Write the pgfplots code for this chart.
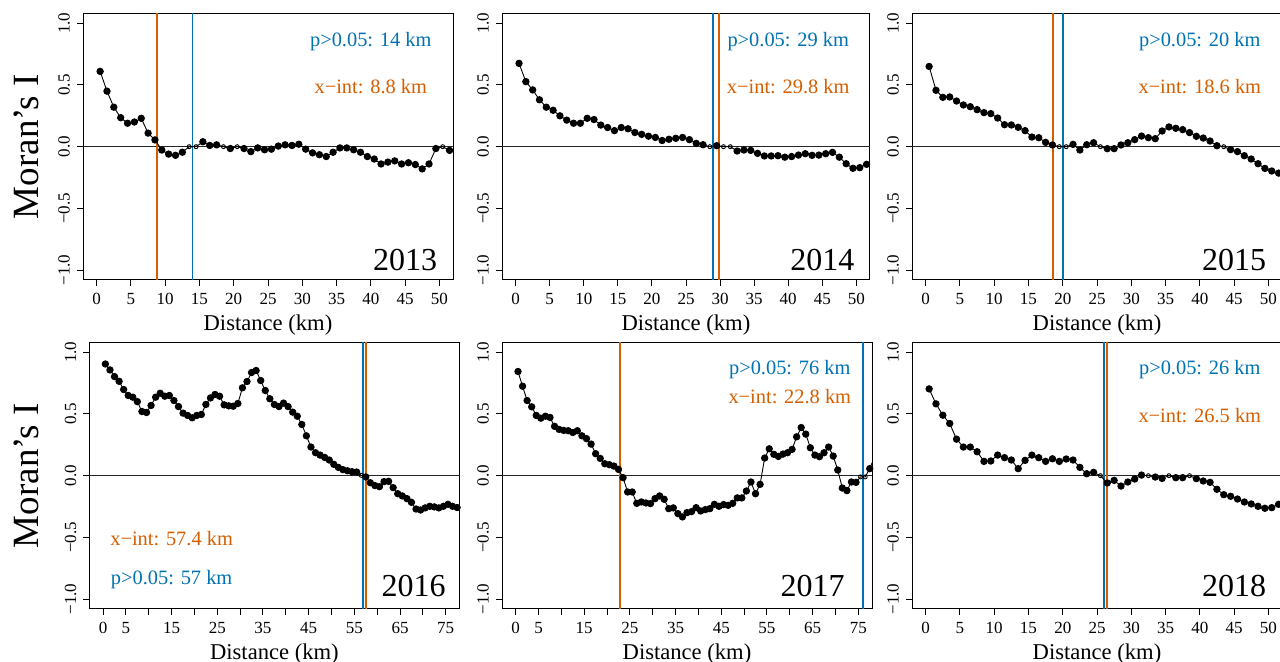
\documentclass[border=0pt]{standalone}
\usepackage{fontspec}
\setmainfont{Liberation Serif}
\usepackage{pgfplots}
\usepackage{pgfplotstable}
\pgfplotsset{compat=1.18}
\definecolor{cblue}{RGB}{0,114,178}
\definecolor{corange}{RGB}{213,94,0}

% d = distance (km), I = Moran's I, s = f (p<0.05) / o (not significant)
\pgfplotstableread{
d I s
0.5 0.61 f
1.5 0.45 f
2.5 0.32 f
3.5 0.235 f
4.5 0.19 f
5.5 0.20 f
6.5 0.23 f
7.5 0.11 f
8.5 0.055 f
9.5 -0.027 f
10.5 -0.06 f
11.5 -0.07 f
12.5 -0.045 f
13.5 0.0 o
14.5 0.0 o
15.5 0.04 f
16.5 0.01 f
17.5 0.015 f
18.5 0.0 o
19.5 -0.015 f
20.5 0.0 o
21.5 -0.015 f
22.5 -0.04 f
23.5 -0.01 f
24.5 -0.025 f
25.5 -0.02 f
26.5 0.005 f
27.5 0.015 f
28.5 0.01 f
29.5 0.02 f
30.5 -0.02 f
31.5 -0.05 f
32.5 -0.065 f
33.5 -0.08 f
34.5 -0.045 f
35.5 -0.01 f
36.5 -0.01 f
37.5 -0.025 f
38.5 -0.045 f
39.5 -0.08 f
40.5 -0.10 f
41.5 -0.14 f
42.5 -0.125 f
43.5 -0.115 f
44.5 -0.14 f
45.5 -0.13 f
46.5 -0.145 f
47.5 -0.18 f
48.5 -0.14 f
49.5 -0.015 f
50.5 0.0 o
51.5 -0.03 f
}\tA

\pgfplotstableread{
d I s
0.5 0.675 f
1.5 0.527 f
2.5 0.46 f
3.5 0.38 f
4.5 0.32 f
5.5 0.295 f
6.5 0.25 f
7.5 0.215 f
8.5 0.19 f
9.5 0.19 f
10.5 0.23 f
11.5 0.22 f
12.5 0.175 f
13.5 0.155 f
14.5 0.13 f
15.5 0.155 f
16.5 0.145 f
17.5 0.115 f
18.5 0.10 f
19.5 0.085 f
20.5 0.075 f
21.5 0.05 f
22.5 0.06 f
23.5 0.068 f
24.5 0.075 f
25.5 0.057 f
26.5 0.027 f
27.5 0.016 f
28.5 0.0 o
29.5 0.008 f
30.5 0.0 o
31.5 0.0 o
32.5 -0.035 f
33.5 -0.027 f
34.5 -0.03 f
35.5 -0.054 f
36.5 -0.075 f
37.5 -0.075 f
38.5 -0.073 f
39.5 -0.085 f
40.5 -0.08 f
41.5 -0.068 f
42.5 -0.057 f
43.5 -0.07 f
44.5 -0.068 f
45.5 -0.057 f
46.5 -0.046 f
47.5 -0.085 f
48.5 -0.138 f
49.5 -0.175 f
50.5 -0.17 f
51.5 -0.143 f
}\tB

\pgfplotstableread{
d I s
0.5 0.65 f
1.5 0.457 f
2.5 0.40 f
3.5 0.403 f
4.5 0.37 f
5.5 0.338 f
6.5 0.324 f
7.5 0.30 f
8.5 0.276 f
9.5 0.268 f
10.5 0.232 f
11.5 0.178 f
12.5 0.176 f
13.5 0.157 f
14.5 0.13 f
15.5 0.078 f
16.5 0.073 f
17.5 0.035 f
18.5 0.014 f
19.5 0.0 o
20.5 0.0 o
21.5 0.019 f
22.5 -0.027 f
23.5 0.016 f
24.5 0.032 f
25.5 0.0 o
26.5 -0.016 f
27.5 -0.016 f
28.5 0.014 f
29.5 0.032 f
30.5 0.057 f
31.5 0.086 f
32.5 0.073 f
33.5 0.065 f
34.5 0.127 f
35.5 0.16 f
36.5 0.149 f
37.5 0.138 f
38.5 0.114 f
39.5 0.084 f
40.5 0.07 f
41.5 0.046 f
42.5 0.008 f
43.5 0.0 o
44.5 -0.024 f
45.5 -0.04 f
46.5 -0.073 f
47.5 -0.10 f
48.5 -0.138 f
49.5 -0.176 f
50.5 -0.197 f
51.5 -0.214 f
}\tC

\pgfplotstableread{
d I s
0.5 0.905 f
1.5 0.857 f
2.5 0.803 f
3.5 0.765 f
4.5 0.698 f
5.5 0.65 f
6.5 0.636 f
7.5 0.60 f
8.5 0.52 f
9.5 0.512 f
10.5 0.569 f
11.5 0.636 f
12.5 0.668 f
13.5 0.644 f
14.5 0.65 f
15.5 0.609 f
16.5 0.56 f
17.5 0.507 f
18.5 0.488 f
19.5 0.469 f
20.5 0.488 f
21.5 0.496 f
22.5 0.577 f
23.5 0.63 f
24.5 0.658 f
25.5 0.644 f
26.5 0.574 f
27.5 0.566 f
28.5 0.563 f
29.5 0.585 f
30.5 0.712 f
31.5 0.763 f
32.5 0.836 f
33.5 0.852 f
34.5 0.771 f
35.5 0.69 f
36.5 0.623 f
37.5 0.577 f
38.5 0.56 f
39.5 0.588 f
40.5 0.56 f
41.5 0.515 f
42.5 0.482 f
43.5 0.415 f
44.5 0.323 f
45.5 0.232 f
46.5 0.186 f
47.5 0.167 f
48.5 0.148 f
49.5 0.127 f
50.5 0.092 f
51.5 0.067 f
52.5 0.049 f
53.5 0.04 f
54.5 0.032 f
55.5 0.03 f
56.5 0.003 o
57.5 -0.01 f
58.5 -0.057 f
59.5 -0.08 f
60.5 -0.089 f
61.5 -0.048 f
62.5 -0.046 f
63.5 -0.097 f
64.5 -0.146 f
65.5 -0.164 f
66.5 -0.186 f
67.5 -0.216 f
68.5 -0.27 f
69.5 -0.278 f
70.5 -0.261 f
71.5 -0.248 f
72.5 -0.253 f
73.5 -0.261 f
74.5 -0.248 f
75.5 -0.232 f
76.5 -0.248 f
77.5 -0.258 f
}\tD

\pgfplotstableread{
d I s
0.5 0.844 f
1.5 0.725 f
2.5 0.609 f
3.5 0.558 f
4.5 0.488 f
5.5 0.466 f
6.5 0.482 f
7.5 0.472 f
8.5 0.40 f
9.5 0.375 f
10.5 0.367 f
11.5 0.364 f
12.5 0.35 f
13.5 0.364 f
14.5 0.323 f
15.5 0.30 f
16.5 0.256 f
17.5 0.178 f
18.5 0.14 f
19.5 0.097 f
20.5 0.089 f
21.5 0.078 f
22.5 0.051 f
23.5 -0.016 f
24.5 -0.132 f
25.5 -0.132 f
26.5 -0.224 f
27.5 -0.213 f
28.5 -0.221 f
29.5 -0.226 f
30.5 -0.186 f
31.5 -0.164 f
32.5 -0.191 f
33.5 -0.267 f
34.5 -0.261 f
35.5 -0.307 f
36.5 -0.334 f
37.5 -0.299 f
38.5 -0.291 f
39.5 -0.259 f
40.5 -0.286 f
41.5 -0.275 f
42.5 -0.267 f
43.5 -0.232 f
44.5 -0.248 f
45.5 -0.234 f
46.5 -0.24 f
47.5 -0.224 f
48.5 -0.18 f
49.5 -0.18 f
50.5 -0.124 f
51.5 -0.051 f
52.5 -0.146 f
53.5 -0.07 f
54.5 0.143 f
55.5 0.218 f
56.5 0.173 f
57.5 0.156 f
58.5 0.175 f
59.5 0.186 f
60.5 0.213 f
61.5 0.315 f
62.5 0.39 f
63.5 0.337 f
64.5 0.226 f
65.5 0.167 f
66.5 0.154 f
67.5 0.186 f
68.5 0.232 f
69.5 0.159 f
70.5 0.046 f
71.5 -0.10 f
72.5 -0.121 f
73.5 -0.051 f
74.5 -0.054 f
75.5 -0.01 o
76.5 -0.01 o
77.5 0.057 f
78.5 0.148 f
}\tE

\pgfplotstableread{
d I s
0.5 0.703 f
1.5 0.582 f
2.5 0.49 f
3.5 0.423 f
4.5 0.296 f
5.5 0.232 f
6.5 0.232 f
7.5 0.194 f
8.5 0.116 f
9.5 0.119 f
10.5 0.167 f
11.5 0.146 f
12.5 0.127 f
13.5 0.057 f
14.5 0.124 f
15.5 0.167 f
16.5 0.146 f
17.5 0.116 f
18.5 0.137 f
19.5 0.116 f
20.5 0.135 f
21.5 0.127 f
22.5 0.067 f
23.5 0.016 f
24.5 0.027 f
25.5 0.0 o
26.5 -0.059 f
27.5 -0.038 f
28.5 -0.084 f
29.5 -0.051 f
30.5 -0.027 f
31.5 0.005 f
32.5 0.0 o
33.5 -0.011 f
34.5 -0.022 f
35.5 0.0 o
36.5 -0.016 f
37.5 -0.016 f
38.5 0.0 o
39.5 -0.024 f
40.5 -0.043 f
41.5 -0.054 f
42.5 -0.11 f
43.5 -0.154 f
44.5 -0.167 f
45.5 -0.189 f
46.5 -0.213 f
47.5 -0.229 f
48.5 -0.248 f
49.5 -0.264 f
50.5 -0.259 f
51.5 -0.232 f
}\tF

\tikzset{
  ann/.style={font=\fontsize{10.2}{11}\selectfont},
  yr/.style={font=\fontsize{16}{17}\selectfont, anchor=base},
}
\pgfplotsset{
  mor/.style={
    scale only axis, width=185pt, height=133.3pt,
    anchor=south west,
    ymin=-1.08, ymax=1.08,
    ytick={-1,-0.5,0,0.5,1},
    yticklabels={−1.0,−0.5,0.0,0.5,1.0},
    tick align=outside, xtick pos=bottom, ytick pos=left,
    major tick length=3pt,
    every tick/.style={black, line width=0.5pt},
    axis line style={line width=0.5pt},
    tick label style={font=\fontsize{8.5}{9}\selectfont},
    yticklabel style={rotate=90, anchor=south},
    /pgf/number format/assume math mode=true,
    xlabel={Distance (km)},
    xlabel style={font=\fontsize{11.3}{12}\selectfont, at={(axis description cs:0.5,0)}, anchor=center, yshift=-22.5pt},
    ylabel style={font=\fontsize{18.5}{20}\selectfont, anchor=center},
  },
  top/.style={mor, xmin=-2, xmax=52, xtick={0,5,...,50}},
  bot/.style={mor, xmin=-3, xmax=78, xtick={0,5,...,75},
    xticklabels={0,5,,15,,25,,35,,45,,55,,65,,75}},
  mi/.style={black, line width=0.45pt, scatter, scatter src=explicit symbolic,
    scatter/classes={f={mark=*, mark size=1.6pt, black},
                     o={mark=o, mark size=1pt, black, mark options={line width=0.4pt}}}},
  zero/.style={black!85, line width=0.5pt},
  vb/.style={cblue, line width=0.8pt},
  vo/.style={corange, line width=0.8pt},
}

\begin{document}
\begin{tikzpicture}
% 2013
\begin{axis}[top, at={(41.5pt,191pt)}, ylabel={Moran’s I},
  ylabel style={at={(axis description cs:-0.154,0.5)}}]
\addplot[zero] coordinates {(-10,0) (100,0)};
\addplot[vo] coordinates {(8.8,-2) (8.8,2)};
\addplot[vb] coordinates {(14,-2) (14,2)};
\addplot[mi] table[x=d, y=I, meta=s] {\tA};
\node[ann, text=cblue] at (axis cs:40,0.85) {p>0.05: 14 km};
\node[ann, text=corange] at (axis cs:40,0.49) {x−int: 8.8 km};
\node[yr] at (axis cs:45,-1.0) {2013};
\end{axis}
% 2014
\begin{axis}[top, at={(251pt,191pt)}, width=184pt]
\addplot[zero] coordinates {(-10,0) (100,0)};
\addplot[vb] coordinates {(29,-2) (29,2)};
\addplot[vo] coordinates {(29.8,-2) (29.8,2)};
\addplot[mi] table[x=d, y=I, meta=s] {\tB};
\node[ann, text=cblue] at (axis cs:40,0.85) {p>0.05: 29 km};
\node[ann, text=corange] at (axis cs:40,0.49) {x−int: 29.8 km};
\node[yr] at (axis cs:45,-1.0) {2014};
\end{axis}
% 2015
\begin{axis}[top, at={(456pt,191pt)}]
\addplot[zero] coordinates {(-10,0) (100,0)};
\addplot[vo] coordinates {(18.6,-2) (18.6,2)};
\addplot[vb] coordinates {(20,-2) (20,2)};
\addplot[mi] table[x=d, y=I, meta=s] {\tC};
\node[ann, text=cblue] at (axis cs:40,0.85) {p>0.05: 20 km};
\node[ann, text=corange] at (axis cs:40,0.49) {x−int: 18.6 km};
\node[yr] at (axis cs:45,-1.0) {2015};
\end{axis}
% 2016
\begin{axis}[bot, at={(44.7pt,26.5pt)}, ylabel={Moran’s I},
  ylabel style={at={(axis description cs:-0.171,0.5)}}]
\addplot[zero] coordinates {(-10,0) (100,0)};
\addplot[vb] coordinates {(56.85,-2) (56.85,2)};
\addplot[vo] coordinates {(57.55,-2) (57.55,2)};
\addplot[mi] table[x=d, y=I, meta=s] {\tD};
\node[ann, text=corange] at (axis cs:15,-0.51) {x−int: 57.4 km};
\node[ann, text=cblue] at (axis cs:15,-0.84) {p>0.05: 57 km};
\node[yr] at (axis cs:68,-0.98) {2016};
\end{axis}
% 2017
\begin{axis}[bot, at={(251pt,26.5pt)}]
\addplot[zero] coordinates {(-10,0) (100,0)};
\addplot[vo] coordinates {(22.8,-2) (22.8,2)};
\addplot[vb] coordinates {(76,-2) (76,2)};
\addplot[mi] table[x=d, y=I, meta=s] {\tE};
\node[ann, text=cblue] at (axis cs:60,0.86) {p>0.05: 76 km};
\node[ann, text=corange] at (axis cs:60,0.64) {x−int: 22.8 km};
\node[yr] at (axis cs:65,-0.98) {2017};
\end{axis}
% 2018
\begin{axis}[top, at={(456pt,26.5pt)}]
\addplot[zero] coordinates {(-10,0) (100,0)};
\addplot[vb] coordinates {(26,-2) (26,2)};
\addplot[vo] coordinates {(26.5,-2) (26.5,2)};
\addplot[mi] table[x=d, y=I, meta=s] {\tF};
\node[ann, text=cblue] at (axis cs:40,0.86) {p>0.05: 26 km};
\node[ann, text=corange] at (axis cs:40,0.49) {x−int: 26.5 km};
\node[yr] at (axis cs:45,-0.98) {2018};
\end{axis}
\pgfresetboundingbox
\path[use as bounding box] (0,0) rectangle (640pt,331pt);
\end{tikzpicture}
\end{document}
